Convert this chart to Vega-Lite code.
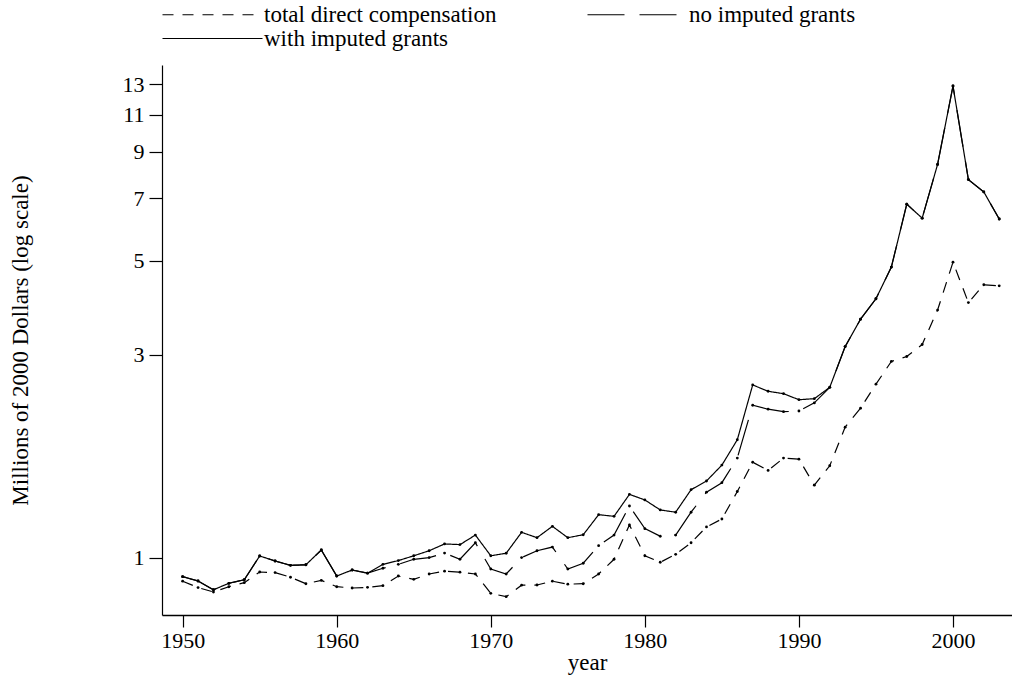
{
  "$schema": "https://vega.github.io/schema/vega-lite/v6.json",
  "autosize": {"type": "none"},
  "padding": {"left": 162, "top": 65, "right": 0, "bottom": 62},
  "width": 850,
  "height": 550,
  "background": "white",
  "config": {
    "view": {"stroke": null},
    "font": "Liberation Serif",
    "axis": {"labelFont": "Liberation Serif", "titleFont": "Liberation Serif", "labelFontSize": 22, "titleFontSize": 23, "labelColor": "black", "titleColor": "black", "titleFontWeight": "normal", "domainColor": "black", "tickColor": "black", "grid": false},
    "legend": {"labelFont": "Liberation Serif", "labelFontSize": 23, "labelColor": "black", "labelLimit": 500}
  },
  "data": {"values": [
    {"year":1950,"series":"with imputed grants","value":0.904},
    {"year":1951,"series":"with imputed grants","value":0.883},
    {"year":1952,"series":"with imputed grants","value":0.842},
    {"year":1953,"series":"with imputed grants","value":0.872},
    {"year":1954,"series":"with imputed grants","value":0.889},
    {"year":1955,"series":"with imputed grants","value":1.011},
    {"year":1956,"series":"with imputed grants","value":0.984},
    {"year":1957,"series":"with imputed grants","value":0.961},
    {"year":1958,"series":"with imputed grants","value":0.964},
    {"year":1959,"series":"with imputed grants","value":1.044},
    {"year":1960,"series":"with imputed grants","value":0.907},
    {"year":1961,"series":"with imputed grants","value":0.937},
    {"year":1962,"series":"with imputed grants","value":0.921},
    {"year":1963,"series":"with imputed grants","value":0.966},
    {"year":1964,"series":"with imputed grants","value":0.986},
    {"year":1965,"series":"with imputed grants","value":1.012},
    {"year":1966,"series":"with imputed grants","value":1.040},
    {"year":1967,"series":"with imputed grants","value":1.079},
    {"year":1968,"series":"with imputed grants","value":1.075},
    {"year":1969,"series":"with imputed grants","value":1.132},
    {"year":1970,"series":"with imputed grants","value":1.012},
    {"year":1971,"series":"with imputed grants","value":1.026},
    {"year":1972,"series":"with imputed grants","value":1.149},
    {"year":1973,"series":"with imputed grants","value":1.116},
    {"year":1974,"series":"with imputed grants","value":1.187},
    {"year":1975,"series":"with imputed grants","value":1.116},
    {"year":1976,"series":"with imputed grants","value":1.134},
    {"year":1977,"series":"with imputed grants","value":1.264},
    {"year":1978,"series":"with imputed grants","value":1.253},
    {"year":1979,"series":"with imputed grants","value":1.411},
    {"year":1980,"series":"with imputed grants","value":1.369},
    {"year":1981,"series":"with imputed grants","value":1.297},
    {"year":1982,"series":"with imputed grants","value":1.281},
    {"year":1983,"series":"with imputed grants","value":1.447},
    {"year":1984,"series":"with imputed grants","value":1.517},
    {"year":1985,"series":"with imputed grants","value":1.653},
    {"year":1986,"series":"with imputed grants","value":1.896},
    {"year":1987,"series":"with imputed grants","value":2.551},
    {"year":1988,"series":"with imputed grants","value":2.465},
    {"year":1989,"series":"with imputed grants","value":2.433},
    {"year":1990,"series":"with imputed grants","value":2.355},
    {"year":1991,"series":"with imputed grants","value":2.368},
    {"year":1992,"series":"with imputed grants","value":2.518},
    {"year":1993,"series":"with imputed grants","value":3.139},
    {"year":1994,"series":"with imputed grants","value":3.641},
    {"year":1995,"series":"with imputed grants","value":4.067},
    {"year":1996,"series":"with imputed grants","value":4.828},
    {"year":1997,"series":"with imputed grants","value":6.785},
    {"year":1998,"series":"with imputed grants","value":6.291},
    {"year":1999,"series":"with imputed grants","value":8.414},
    {"year":2000,"series":"with imputed grants","value":12.86},
    {"year":2001,"series":"with imputed grants","value":7.75},
    {"year":2002,"series":"with imputed grants","value":7.25},
    {"year":2003,"series":"with imputed grants","value":6.262},
    {"year":1950,"series":"no imputed grants","value":0.904},
    {"year":1951,"series":"no imputed grants","value":0.883},
    {"year":1952,"series":"no imputed grants","value":0.842},
    {"year":1953,"series":"no imputed grants","value":0.872},
    {"year":1954,"series":"no imputed grants","value":0.889},
    {"year":1955,"series":"no imputed grants","value":1.011},
    {"year":1956,"series":"no imputed grants","value":0.984},
    {"year":1957,"series":"no imputed grants","value":0.961},
    {"year":1958,"series":"no imputed grants","value":0.964},
    {"year":1959,"series":"no imputed grants","value":1.044},
    {"year":1960,"series":"no imputed grants","value":0.907},
    {"year":1961,"series":"no imputed grants","value":0.937},
    {"year":1962,"series":"no imputed grants","value":0.921},
    {"year":1963,"series":"no imputed grants","value":0.946},
    {"year":1964,"series":"no imputed grants","value":0.966},
    {"year":1965,"series":"no imputed grants","value":0.993},
    {"year":1966,"series":"no imputed grants","value":1.002},
    {"year":1967,"series":"no imputed grants","value":1.027},
    {"year":1968,"series":"no imputed grants","value":0.993},
    {"year":1969,"series":"no imputed grants","value":1.086},
    {"year":1970,"series":"no imputed grants","value":0.942},
    {"year":1971,"series":"no imputed grants","value":0.917},
    {"year":1972,"series":"no imputed grants","value":1.002},
    {"year":1973,"series":"no imputed grants","value":1.040},
    {"year":1974,"series":"no imputed grants","value":1.061},
    {"year":1975,"series":"no imputed grants","value":0.942},
    {"year":1976,"series":"no imputed grants","value":0.972},
    {"year":1977,"series":"no imputed grants","value":1.069},
    {"year":1978,"series":"no imputed grants","value":1.132},
    {"year":1979,"series":"no imputed grants","value":1.325},
    {"year":1980,"series":"no imputed grants","value":1.172},
    {"year":1981,"series":"no imputed grants","value":1.125},
    {"year":1982,"series":"no imputed grants","value":1.132},
    {"year":1983,"series":"no imputed grants","value":1.281},
    {"year":1984,"series":"no imputed grants","value":1.428},
    {"year":1985,"series":"no imputed grants","value":1.503},
    {"year":1986,"series":"no imputed grants","value":1.717},
    {"year":1987,"series":"no imputed grants","value":2.285},
    {"year":1988,"series":"no imputed grants","value":2.237},
    {"year":1989,"series":"no imputed grants","value":2.207},
    {"year":1990,"series":"no imputed grants","value":2.215},
    {"year":1991,"series":"no imputed grants","value":2.315},
    {"year":1992,"series":"no imputed grants","value":2.518},
    {"year":1993,"series":"no imputed grants","value":3.139},
    {"year":1994,"series":"no imputed grants","value":3.641},
    {"year":1995,"series":"no imputed grants","value":4.067},
    {"year":1996,"series":"no imputed grants","value":4.828},
    {"year":1997,"series":"no imputed grants","value":6.785},
    {"year":1998,"series":"no imputed grants","value":6.291},
    {"year":1999,"series":"no imputed grants","value":8.414},
    {"year":2000,"series":"no imputed grants","value":12.86},
    {"year":2001,"series":"no imputed grants","value":7.75},
    {"year":2002,"series":"no imputed grants","value":7.25},
    {"year":2003,"series":"no imputed grants","value":6.262},
    {"year":1950,"series":"total direct compensation","value":0.882},
    {"year":1951,"series":"total direct compensation","value":0.852},
    {"year":1952,"series":"total direct compensation","value":0.832},
    {"year":1953,"series":"total direct compensation","value":0.856},
    {"year":1954,"series":"total direct compensation","value":0.875},
    {"year":1955,"series":"total direct compensation","value":0.927},
    {"year":1956,"series":"total direct compensation","value":0.924},
    {"year":1957,"series":"total direct compensation","value":0.901},
    {"year":1958,"series":"total direct compensation","value":0.870},
    {"year":1959,"series":"total direct compensation","value":0.886},
    {"year":1960,"series":"total direct compensation","value":0.856},
    {"year":1961,"series":"total direct compensation","value":0.850},
    {"year":1962,"series":"total direct compensation","value":0.853},
    {"year":1963,"series":"total direct compensation","value":0.861},
    {"year":1964,"series":"total direct compensation","value":0.907},
    {"year":1965,"series":"total direct compensation","value":0.891},
    {"year":1966,"series":"total direct compensation","value":0.917},
    {"year":1967,"series":"total direct compensation","value":0.931},
    {"year":1968,"series":"total direct compensation","value":0.926},
    {"year":1969,"series":"total direct compensation","value":0.917},
    {"year":1970,"series":"total direct compensation","value":0.826},
    {"year":1971,"series":"total direct compensation","value":0.811},
    {"year":1972,"series":"total direct compensation","value":0.863},
    {"year":1973,"series":"total direct compensation","value":0.864},
    {"year":1974,"series":"total direct compensation","value":0.882},
    {"year":1975,"series":"total direct compensation","value":0.868},
    {"year":1976,"series":"total direct compensation","value":0.870},
    {"year":1977,"series":"total direct compensation","value":0.917},
    {"year":1978,"series":"total direct compensation","value":0.993},
    {"year":1979,"series":"total direct compensation","value":1.196},
    {"year":1980,"series":"total direct compensation","value":1.012},
    {"year":1981,"series":"total direct compensation","value":0.977},
    {"year":1982,"series":"total direct compensation","value":1.020},
    {"year":1983,"series":"total direct compensation","value":1.086},
    {"year":1984,"series":"total direct compensation","value":1.183},
    {"year":1985,"series":"total direct compensation","value":1.235},
    {"year":1986,"series":"total direct compensation","value":1.433},
    {"year":1987,"series":"total direct compensation","value":1.679},
    {"year":1988,"series":"total direct compensation","value":1.606},
    {"year":1989,"series":"total direct compensation","value":1.717},
    {"year":1990,"series":"total direct compensation","value":1.707},
    {"year":1991,"series":"total direct compensation","value":1.483},
    {"year":1992,"series":"total direct compensation","value":1.647},
    {"year":1993,"series":"total direct compensation","value":2.030},
    {"year":1994,"series":"total direct compensation","value":2.249},
    {"year":1995,"series":"total direct compensation","value":2.562},
    {"year":1996,"series":"total direct compensation","value":2.897},
    {"year":1997,"series":"total direct compensation","value":2.975},
    {"year":1998,"series":"total direct compensation","value":3.175},
    {"year":1999,"series":"total direct compensation","value":3.826},
    {"year":2000,"series":"total direct compensation","value":4.957},
    {"year":2001,"series":"total direct compensation","value":3.983},
    {"year":2002,"series":"total direct compensation","value":4.388},
    {"year":2003,"series":"total direct compensation","value":4.362}
  ]},
  "encoding": {
    "x": {"field": "year", "type": "quantitative",
      "scale": {"domain": [1948.66, 2003.83], "nice": false, "zero": false},
      "axis": {"values": [1950, 1960, 1970, 1980, 1990, 2000], "format": "d", "tickSize": 12, "labelPadding": 3, "title": "year", "titlePadding": 0, "domainWidth": 1.5, "tickWidth": 1.2}},
    "y": {"field": "value", "type": "quantitative",
      "scale": {"type": "log", "domain": [0.7345, 14.41], "nice": false, "zero": false},
      "axis": {"values": [1, 3, 5, 7, 9, 11, 13], "format": "d", "tickSize": 13, "labelPadding": 5, "labelAngle": 0, "title": "Millions of 2000 Dollars (log scale)", "titlePadding": 90, "domainWidth": 1.2, "tickWidth": 1.2}}
  },
  "layer": [
    {
      "mark": {"type": "line", "color": "black", "strokeWidth": 1.2},
      "encoding": {
        "strokeDash": {"field": "series", "type": "nominal",
          "scale": {"domain": ["total direct compensation", "no imputed grants", "with imputed grants"], "range": [[11, 9], [37, 15], [1, 0]]},
          "legend": {"title": null, "orient": "none", "legendX": 39, "legendY": -62, "columns": 2, "direction": "horizontal", "symbolType": "M-5,0H5", "symbolSize": 400, "symbolStrokeWidth": 1.2, "symbolStrokeColor": "black", "symbolFillColor": "transparent", "labelOffset": 40, "columnPadding": 88, "rowPadding": 0}}
      }
    },
    {
      "mark": {"type": "point", "filled": true, "color": "black", "size": 8, "opacity": 1},
      "encoding": {"detail": {"field": "series", "type": "nominal"}}
    }
  ]
}
